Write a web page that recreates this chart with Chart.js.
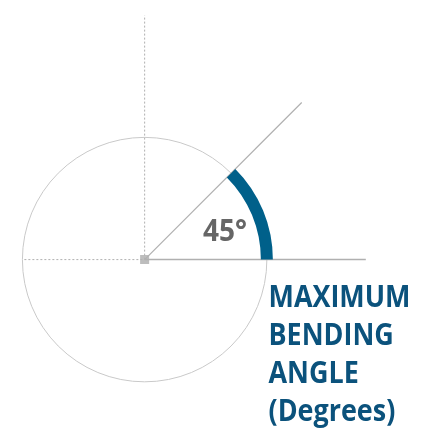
<!DOCTYPE html>
<html>
<head>
<meta charset="utf-8">
<script src="https://cdn.jsdelivr.net/npm/chart.js@4.4.1/dist/chart.umd.min.js"></script>
<style>
  html, body { margin: 0; padding: 0; background: #ffffff; }
  #wrap { position: relative; width: 428px; height: 428px; }
</style>
</head>
<body>
<div id="wrap"><canvas id="c" width="428" height="428"></canvas></div>
<script>
// ---- data ----
const bendAngles = [45];                 // maximum bending angle (degrees)
const angleLabels = ['45°'];
const titleLines = ['MAXIMUM', 'BENDING', 'ANGLE', '(Degrees)'];

// ---- geometry / style (layout only) ----
const G = {
  xMin: -142.5, xMax: 285.5, yMin: -167, yMax: 261,
  circleR: 126, arcWidth: 12, rayLen: 229, baseLen: 228,
  dotLeft: -124, dotUp: 252
};
const BLUE = '#00608a', TEXT_BLUE = '#0b527c', GREY = '#b0b0b0', LIGHT = '#c9c9c9';

const a = bendAngles[0] * Math.PI / 180;

const overlay = {
  id: 'overlay',
  beforeDatasetsDraw(chart) {
    const ctx = chart.ctx, xs = chart.scales.x, ys = chart.scales.y;
    const cx = xs.getPixelForValue(0), cy = ys.getPixelForValue(0);
    const r = xs.getPixelForValue(G.circleR) - cx;
    ctx.save();
    ctx.strokeStyle = LIGHT; ctx.lineWidth = 1;
    ctx.beginPath(); ctx.arc(cx, cy, r, 0, Math.PI * 2); ctx.stroke();
    ctx.restore();
  },
  afterDatasetsDraw(chart) {
    const ctx = chart.ctx, xs = chart.scales.x, ys = chart.scales.y;
    const cx = xs.getPixelForValue(0), cy = ys.getPixelForValue(0);
    const r = xs.getPixelForValue(G.circleR) - cx;
    ctx.save();
    ctx.strokeStyle = BLUE; ctx.lineWidth = G.arcWidth; ctx.lineCap = 'butt';
    ctx.beginPath(); ctx.arc(cx, cy, r, -a, 0); ctx.stroke();
    ctx.textBaseline = 'alphabetic'; ctx.textAlign = 'left';
    // angle label
    ctx.font = 'bold 30px "Open Sans", sans-serif';
    ctx.fillStyle = '#666666';
    let w = ctx.measureText(angleLabels[0]).width;
    ctx.save(); ctx.translate(203, 240.5); ctx.scale(44 / w, 1);
    ctx.fillText(angleLabels[0], 0, 0); ctx.restore();
    // title
    ctx.fillStyle = TEXT_BLUE;
    ctx.font = 'bold 30px "Open Sans", sans-serif';
    const sx = 142 / ctx.measureText(titleLines[0]).width;
    titleLines.forEach((t, i) => {
      ctx.save(); ctx.translate(268.5, 307 + i * 38); ctx.scale(sx, 1);
      ctx.fillText(t, 0, 0); ctx.restore();
    });
    ctx.restore();
  }
};

new Chart(document.getElementById('c'), {
  type: 'scatter',
  data: {
    datasets: [
      { // dotted vertical guide
        data: [{x: 0, y: 0}, {x: 0, y: G.dotUp}], showLine: true,
        borderColor: GREY, borderWidth: 1, borderDash: [2, 2], pointRadius: 0
      },
      { // dotted horizontal guide
        data: [{x: G.dotLeft, y: 0}, {x: 0, y: 0}], showLine: true,
        borderColor: GREY, borderWidth: 1, borderDash: [2, 2], pointRadius: 0
      },
      { // baseline (0°)
        data: [{x: 0, y: 0}, {x: G.baseLen, y: 0}], showLine: true,
        borderColor: GREY, borderWidth: 1.5, pointRadius: 0
      },
      { // ray at bending angle
        data: [{x: 0, y: 0}, {x: G.rayLen * Math.cos(a), y: G.rayLen * Math.sin(a)}], showLine: true,
        borderColor: GREY, borderWidth: 1.2, pointRadius: 0
      },
      { // pivot
        data: [{x: 0, y: 0}], pointStyle: 'rect', pointRadius: 6.4,
        backgroundColor: '#bdbdbd', borderColor: '#bdbdbd', borderWidth: 0
      }
    ]
  },
  options: {
    responsive: false, animation: false,
    layout: { padding: 0 },
    plugins: { legend: { display: false }, tooltip: { enabled: false } },
    scales: {
      x: { type: 'linear', min: G.xMin, max: G.xMax, display: false },
      y: { type: 'linear', min: G.yMin, max: G.yMax, display: false }
    },
    elements: { line: { tension: 0 } }
  },
  plugins: [overlay]
});
</script>
</body>
</html>
